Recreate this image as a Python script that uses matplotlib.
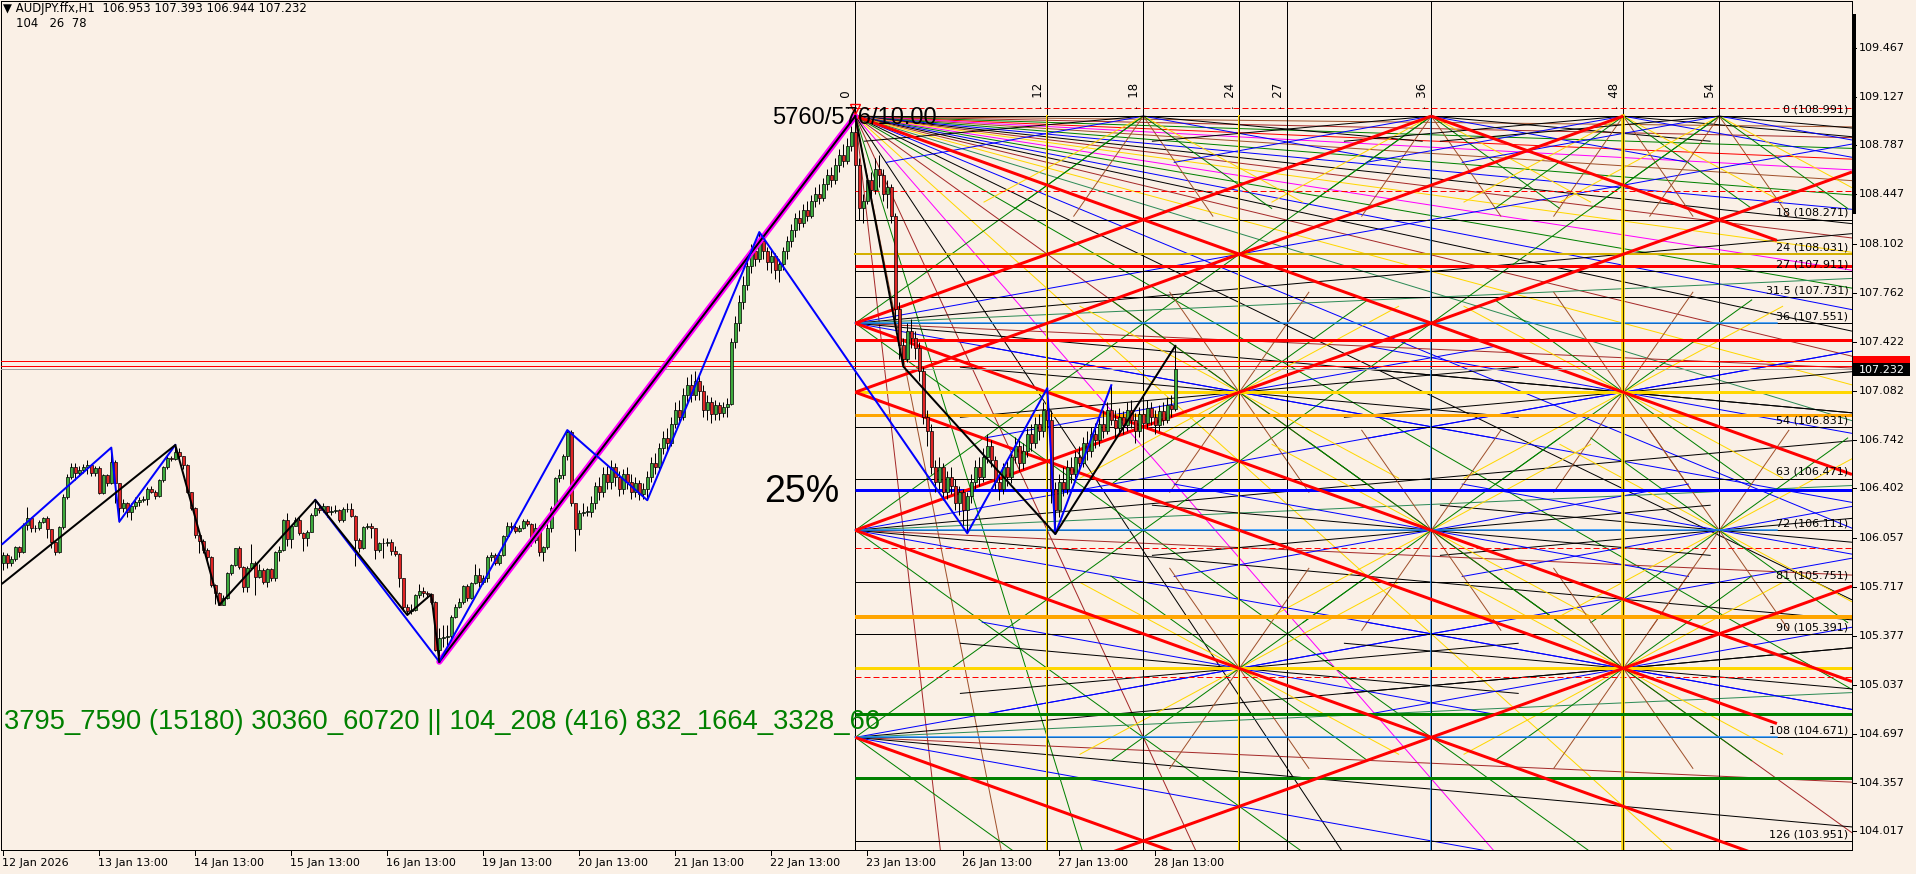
import numpy as np
import matplotlib
matplotlib.use("Agg")
import matplotlib.pyplot as plt
from matplotlib.lines import Line2D
from matplotlib.patches import Rectangle
from matplotlib.transforms import blended_transform_factory

# ------------------------------------------------------------------ data
HEADER = "\u25BC AUDJPY.ffx,H1  106.953 107.393 106.944 107.232"
SUBHEADER = "104   26  78"

DATE_BARS = [0, 24, 48, 72, 96, 120, 144, 168, 192, 216, 240, 264, 288]
DATE_LABELS = ["12 Jan 2026", "13 Jan 13:00", "14 Jan 13:00", "15 Jan 13:00",
               "16 Jan 13:00", "19 Jan 13:00", "20 Jan 13:00", "21 Jan 13:00",
               "22 Jan 13:00", "23 Jan 13:00", "26 Jan 13:00", "27 Jan 13:00",
               "28 Jan 13:00"]

PRICE_TICKS = [109.467, 109.127, 108.787, 108.447, 108.102, 107.762, 107.422,
               107.082, 106.742, 106.402, 106.057, 105.717, 105.377, 105.037,
               104.697, 104.357, 104.017]
LAST_PRICE = 107.232
RED_PRICE_LINES = [107.290, 107.256]

OPEN0 = 105.881
CLOSE = [
 105.939, 105.881, 105.909, 105.993, 105.962, 106.148, 106.194, 106.125, 106.130, 106.171,
 106.194, 106.118, 106.030, 105.962, 106.132, 106.345, 106.479, 106.553, 106.507, 106.530,
 106.550, 106.565, 106.512, 106.542, 106.368, 106.495, 106.442, 106.588, 106.438, 106.264,
 106.298, 106.240, 106.280, 106.310, 106.320, 106.330, 106.396, 106.380, 106.350, 106.461,
 106.553, 106.611, 106.604, 106.658, 106.628, 106.565, 106.380, 106.264, 106.078, 106.040,
 105.974, 105.928, 105.731, 105.673, 105.592, 105.638, 105.812, 105.870, 105.986, 105.858,
 105.719, 105.846, 105.886, 105.784, 105.835, 105.754, 105.840, 105.777, 105.962, 105.974,
 106.183, 106.048, 106.141, 106.183, 106.090, 106.055, 106.097, 106.217, 106.264, 106.252,
 106.280, 106.240, 106.247, 106.250, 106.183, 106.260, 106.257, 106.210, 106.043, 105.990,
 106.132, 106.140, 106.130, 105.974, 106.020, 106.020, 106.032, 105.970, 105.946, 105.777,
 105.580, 105.552, 105.560, 105.661, 105.690, 105.677, 105.668, 105.614, 105.278, 105.360,
 105.371, 105.376, 105.510, 105.575, 105.615, 105.724, 105.638, 105.747, 105.800, 105.754,
 105.777, 105.928, 105.940, 105.886, 105.940, 106.071, 106.141, 106.132, 106.108, 106.130,
 106.178, 106.155, 106.043, 106.125, 105.962, 105.997, 106.125, 106.264, 106.472, 106.495,
 106.628, 106.797, 106.298, 106.118, 106.234, 106.240, 106.240, 106.300, 106.420, 106.380,
 106.500, 106.450, 106.550, 106.480, 106.400, 106.500, 106.450, 106.380, 106.440, 106.360,
 106.400, 106.480, 106.580, 106.550, 106.680, 106.750, 106.720, 106.850, 106.950, 106.900,
 107.050, 107.120, 107.050, 107.150, 107.080, 106.950, 107.000, 106.920, 106.980, 106.930,
 106.970, 106.990, 107.420, 107.550, 107.700, 107.820, 107.950, 108.050, 108.000, 108.120,
 108.050, 107.980, 108.020, 107.920, 107.960, 108.050, 108.120, 108.200, 108.280, 108.250,
 108.340, 108.300, 108.400, 108.450, 108.420, 108.520, 108.580, 108.550, 108.650, 108.720,
 108.680, 108.780, 108.880, 108.650, 108.350, 108.400, 108.550, 108.480, 108.620, 108.580,
 108.450, 108.500, 108.300, 107.650, 107.400, 107.300, 107.500, 107.450, 107.380, 107.220,
 106.900, 106.800, 106.550, 106.450, 106.550, 106.380, 106.480, 106.420, 106.300, 106.380,
 106.250, 106.350, 106.450, 106.550, 106.480, 106.620, 106.700, 106.600, 106.450, 106.400,
 106.550, 106.480, 106.620, 106.700, 106.580, 106.660, 106.780, 106.720, 106.850, 106.800,
 106.950, 106.880, 106.400, 106.250, 106.450, 106.400, 106.550, 106.500, 106.620, 106.580,
 106.720, 106.660, 106.780, 106.740, 106.850, 106.800, 106.950, 106.880, 106.820, 106.900,
 106.840, 106.950, 106.880, 106.800, 106.920, 106.860, 106.960, 106.900, 106.840, 106.940,
 106.880, 106.980, 106.953, 107.232]
HIGH = [
 105.962, 105.950, 105.930, 106.000, 106.000, 106.160, 106.271, 106.200, 106.150, 106.180,
 106.200, 106.210, 106.120, 106.030, 106.140, 106.360, 106.500, 106.580, 106.580, 106.560,
 106.570, 106.600, 106.570, 106.560, 106.560, 106.500, 106.500, 106.686, 106.600, 106.440,
 106.330, 106.310, 106.300, 106.340, 106.340, 106.350, 106.410, 106.420, 106.390, 106.470,
 106.560, 106.630, 106.630, 106.704, 106.680, 106.630, 106.570, 106.380, 106.270, 106.080,
 106.050, 105.990, 105.930, 105.740, 105.680, 105.660, 105.820, 105.880, 105.990, 106.000,
 105.860, 105.860, 106.016, 105.900, 105.880, 105.850, 105.850, 105.850, 105.970, 106.000,
 106.190, 106.230, 106.150, 106.200, 106.200, 106.100, 106.110, 106.230, 106.322, 106.290,
 106.300, 106.280, 106.280, 106.290, 106.260, 106.270, 106.300, 106.300, 106.220, 106.060,
 106.140, 106.160, 106.160, 106.130, 106.030, 106.060, 106.060, 106.050, 106.000, 105.950,
 105.780, 105.600, 105.600, 105.670, 105.740, 105.720, 105.690, 105.666, 105.620, 105.430,
 105.450, 105.450, 105.520, 105.600, 105.640, 105.730, 105.740, 105.750, 105.880, 105.850,
 105.800, 105.940, 105.960, 105.950, 105.950, 106.080, 106.170, 106.170, 106.150, 106.150,
 106.190, 106.190, 106.160, 106.160, 106.150, 106.000, 106.160, 106.280, 106.480, 106.540,
 106.640, 106.808, 106.810, 106.300, 106.250, 106.300, 106.280, 106.350, 106.450, 106.480,
 106.550, 106.560, 106.600, 106.580, 106.520, 106.540, 106.550, 106.500, 106.480, 106.460,
 106.440, 106.520, 106.620, 106.650, 106.720, 106.800, 106.820, 106.900, 107.000, 107.020,
 107.100, 107.180, 107.200, 107.220, 107.200, 107.120, 107.050, 107.040, 107.020, 107.000,
 107.000, 107.030, 107.450, 107.600, 107.750, 107.880, 108.000, 108.100, 108.120, 108.185,
 108.150, 108.080, 108.060, 108.040, 108.000, 108.080, 108.160, 108.240, 108.320, 108.340,
 108.380, 108.400, 108.440, 108.500, 108.520, 108.560, 108.620, 108.640, 108.700, 108.760,
 108.800, 108.840, 108.920, 108.991, 108.700, 108.450, 108.580, 108.600, 108.700, 108.720,
 108.620, 108.550, 108.520, 108.320, 107.700, 107.450, 107.550, 107.580, 107.500, 107.420,
 107.250, 106.950, 106.850, 106.600, 106.620, 106.580, 106.520, 106.550, 106.470, 106.420,
 106.400, 106.380, 106.500, 106.600, 106.620, 106.680, 106.780, 106.740, 106.630, 106.500,
 106.580, 106.600, 106.660, 106.760, 106.740, 106.720, 106.820, 106.850, 106.900, 106.920,
 107.000, 107.100, 106.950, 106.450, 106.500, 106.550, 106.600, 106.620, 106.660, 106.700,
 106.760, 106.800, 106.830, 106.860, 106.900, 106.950, 107.000, 107.120, 106.950, 106.960,
 106.940, 107.000, 107.020, 106.930, 106.970, 106.980, 107.020, 107.000, 106.950, 106.980,
 107.000, 107.040, 107.050, 107.393]
LOW = [
 105.835, 105.850, 105.860, 105.900, 105.928, 105.950, 106.113, 106.100, 106.100, 106.110,
 106.160, 106.055, 105.990, 105.940, 105.950, 106.120, 106.330, 106.470, 106.460, 106.490,
 106.510, 106.500, 106.490, 106.490, 106.360, 106.360, 106.420, 106.430, 106.300, 106.171,
 106.240, 106.200, 106.180, 106.260, 106.280, 106.310, 106.290, 106.370, 106.330, 106.340,
 106.450, 106.540, 106.590, 106.600, 106.600, 106.540, 106.370, 106.250, 106.060, 105.950,
 105.950, 105.900, 105.720, 105.600, 105.592, 105.590, 105.630, 105.800, 105.860, 105.840,
 105.680, 105.680, 105.840, 105.660, 105.780, 105.740, 105.720, 105.760, 105.760, 105.900,
 105.970, 106.000, 105.990, 106.140, 106.080, 105.970, 106.000, 106.100, 106.210, 106.230,
 106.240, 106.200, 106.220, 106.230, 106.170, 106.170, 106.240, 106.200, 105.865, 105.960,
 105.980, 106.120, 106.060, 105.910, 105.960, 105.920, 106.000, 105.940, 105.930, 105.720,
 105.550, 105.522, 105.530, 105.550, 105.640, 105.650, 105.640, 105.600, 105.270, 105.197,
 105.300, 105.260, 105.340, 105.500, 105.570, 105.600, 105.620, 105.630, 105.740, 105.720,
 105.740, 105.750, 105.900, 105.870, 105.870, 105.930, 106.060, 106.100, 106.090, 106.100,
 106.120, 106.140, 106.000, 106.020, 105.930, 105.900, 105.980, 106.100, 106.260, 106.450,
 106.470, 106.600, 106.280, 105.970, 106.080, 106.210, 106.210, 106.200, 106.260, 106.320,
 106.340, 106.400, 106.400, 106.420, 106.350, 106.360, 106.400, 106.330, 106.340, 106.320,
 106.330, 106.320, 106.450, 106.500, 106.520, 106.640, 106.660, 106.700, 106.820, 106.850,
 106.880, 107.000, 107.000, 107.020, 107.020, 106.900, 106.880, 106.860, 106.880, 106.880,
 106.900, 106.900, 106.980, 107.380, 107.500, 107.650, 107.780, 107.900, 107.950, 107.980,
 108.000, 107.920, 107.900, 107.860, 107.840, 107.920, 108.000, 108.080, 108.150, 108.200,
 108.220, 108.260, 108.280, 108.360, 108.380, 108.400, 108.480, 108.500, 108.520, 108.600,
 108.640, 108.660, 108.750, 108.600, 108.270, 108.250, 108.380, 108.420, 108.450, 108.500,
 108.400, 108.350, 108.250, 107.580, 107.300, 107.250, 107.280, 107.380, 107.300, 107.150,
 106.850, 106.700, 106.500, 106.380, 106.400, 106.320, 106.330, 106.360, 106.250, 106.220,
 106.150, 106.090, 106.300, 106.400, 106.420, 106.450, 106.580, 106.550, 106.400, 106.320,
 106.360, 106.420, 106.440, 106.580, 106.520, 106.540, 106.620, 106.660, 106.680, 106.740,
 106.760, 106.820, 106.300, 106.085, 106.200, 106.350, 106.360, 106.440, 106.460, 106.520,
 106.550, 106.600, 106.620, 106.680, 106.700, 106.750, 106.780, 106.840, 106.760, 106.780,
 106.780, 106.800, 106.820, 106.720, 106.760, 106.800, 106.820, 106.840, 106.780, 106.800,
 106.840, 106.860, 106.900, 106.944]

# zigzag swing points (bar index, price)
ZZ_BLACK_BAR = [-0.2, 43, 54, 78, 101, 107, 109, np.nan, 213, 225, 263, 293]
ZZ_BLACK_PRICE = [105.742, 106.704, 105.592, 106.322, 105.522, 105.666, 105.197,
                  np.nan, 108.991, 107.250, 106.085, 107.393]
ZZ_BLUE_BAR = [-0.2, 27, 29, 43, np.nan, 78, 109, 141, 161, 189, 241, 261, 263, 277]
ZZ_BLUE_PRICE = [106.016, 106.686, 106.171, 106.704, np.nan, 106.322, 105.197,
                 106.808, 106.320, 108.185, 106.090, 107.100, 106.085, 107.120]
TREND_BAR = [109, 213]
TREND_PRICE = [105.197, 108.991]

# Gann square (origin, unit = 4 bars, level = 0.04)
G_BAR0, G_P0, G_UNIT, G_STEP, G_BOX = 213, 108.991, 4, 0.04, 57.6
V_UNITS = [0, 12, 18, 24, 27, 36, 48, 54]
V_OVER_UNITS = [12, 24, 36, 48]
V_OVER_COLORS = ["gold", "gold", "#1E90FF", "gold"]
V_OVER_W = [2, 2, 1.5, 3.5]
LEVELS = [0, 18, 24, 27, 31.5, 36, 54, 63, 72, 81, 90, 108, 126]
BLUE_LEVELS = [36, 72, 108]
THICK_LEVELS = [26, 39, 48, 52, 65, 87, 96, 104, 115]
THICK_COLORS = ["red", "red", "gold", "orange", "blue", "orange", "gold", "green", "green"]
THICK_W = [3, 3, 3, 3, 3, 4, 3, 3, 3]
GOLD_THIN_LEVELS = [24]
DASH_LEVELS = [-1.5, 13, 75, 97.5]
RED_FALL_C = [0, 36, 48, 72, 108, -36]
RED_FALL_END = [99, 99, 57.6, 99, 99, 57.6]
RED_RISE_K = [36, 48, 72, 144]
FAN0_SLOPES = [0.03, 0.06, 0.09, 0.12, 0.15, 0.18, 0.22, 0.26, 0.30, 0.34,
               0.38, 0.43, 0.48, 0.54, 0.60, 0.67, 0.75, 0.85, 1.15, 1.35,
               1.6, 2.0, 2.5, 3.2, 4.2, 6.0, 9.0, 14.0, 24.0]
FAN0_COLORS = ["sienna", "brown", "green", "red", "magenta", "sienna", "green", "blue",
               "black", "brown", "gold", "magenta", "green", "blue", "black", "brown",
               "gold", "seagreen", "blue", "black", "green", "brown", "gold", "magenta",
               "black", "brown", "green", "sienna", "brown"]
FAN_LEFT_LEVELS = [36, 72, 108]
FAN_LEFT_SLOPES = [-2, -0.5, -0.25, -0.125, 0.125, 0.25, 0.5, 2]
FAN_LEFT_COLORS = ["green", "blue", "black", "seagreen", "brown", "black", "blue", "green"]
STAR_U = [18, 36, 48, 54, 24, 48, 54, 36, 24, 48]
STAR_L = [0, 0, 0, 0, 48, 48, 72, 72, 96, 96]
STAR_SLOPES = [0.25, 0.5, 1.5, 2, 4]
STAR_COLORS = ["black", "blue", "gold", "green", "sienna"]
STAR_REACH = 18

TEXT_SQUARE = "5760/576/10.00"
TEXT_PCT = "25%"
TEXT_GREEN = "3795_7590 (15180) 30360_60720 || 104_208 (416) 832_1664_3328_66"

# ------------------------------------------------------------------ layout
W, H, DPI = 1916, 874, 100
PX = 72.0 / DPI
BG = "#FAF0E6"
AX_L, AX_R, AX_T, AX_B = 1, 1852, 1, 850
XMIN, XMAX = (AX_L - 3.3) / 4, (AX_R - 3.3) / 4
YMAX = 109.467 + (47.7 - AX_T) / 143.8
YMIN = 109.467 - (AX_B - 47.7) / 143.8

plt.rcParams["font.family"] = ["DejaVu Sans"]
fig = plt.figure(figsize=(W / DPI, H / DPI), dpi=DPI, facecolor=BG)
ax = fig.add_axes([AX_L / W, 1 - AX_B / H, (AX_R - AX_L) / W, (AX_B - AX_T) / H])
ax.set_facecolor(BG)
ax.set_xlim(XMIN, XMAX)
ax.set_ylim(YMIN, YMAX)
ax.set_xticks([])
ax.set_yticks([])
for sp in ax.spines.values():
    sp.set_color("black")
    sp.set_linewidth(1 * PX)

U_MAX = (XMAX - G_BAR0) / G_UNIT
L_MAX = (G_P0 - YMIN) / G_STEP + 1


def gb(u):
    return G_BAR0 + G_UNIT * np.asarray(u, dtype=float)


def gp(L):
    return G_P0 - G_STEP * np.asarray(L, dtype=float)


def clip(u1, L1, u2, L2, umax=None):
    umax = U_MAX if umax is None else umax
    du, dL = u2 - u1, L2 - L1
    t0, t1 = 0.0, 1.0
    for p, q in ((-du, u1 - 0), (du, umax - u1), (-dL, L1 - 0), (dL, L_MAX - L1)):
        if p == 0:
            if q < 0:
                return None
        else:
            t = q / p
            if p < 0:
                t0 = max(t0, t)
            else:
                t1 = min(t1, t)
    if t0 >= t1:
        return None
    return u1 + t0 * du, L1 + t0 * dL, u1 + t1 * du, L1 + t1 * dL


def seg(u1, L1, u2, L2, color, lw_px, z=2, umax=None, **kw):
    c = clip(u1, L1, u2, L2, umax)
    if c is None:
        return
    a, b, cc, d = c
    ax.plot([gb(a), gb(cc)], [gp(b), gp(d)], color=color, lw=lw_px * PX,
            solid_capstyle="butt", zorder=z, **kw)


# ---- Gann thin rays
for s, col in zip(FAN0_SLOPES, FAN0_COLORS):
    seg(0, 0, 200, 200 * s, col, 1)
for L0 in FAN_LEFT_LEVELS:
    for s, col in zip(FAN_LEFT_SLOPES, FAN_LEFT_COLORS):
        seg(0, L0, 200, L0 + 200 * s, col, 1)
for su, sl in zip(STAR_U, STAR_L):
    for s, col in zip(STAR_SLOPES, STAR_COLORS):
        d = STAR_REACH / np.sqrt(1 + s * s)
        for sg in (1, -1):
            seg(su - d, sl - sg * s * d, su + d, sl + sg * s * d, col, 1)

# ---- vertical grid lines
for u in V_UNITS:
    ax.axvline(gb(u), color="black", lw=1 * PX, zorder=2.2)
    ax.text(gb(u) - 2.3, 109.041, ".  " + str(u), rotation=90, ha="center", va="bottom",
            fontsize=8.5, color="black", zorder=7)
for u, col, w in zip(V_OVER_UNITS, V_OVER_COLORS, V_OVER_W):
    ax.plot([gb(u), gb(u)], [gp(0), YMIN], color=col, lw=w * PX, zorder=2.3)
    ax.plot([gb(u), gb(u)], [gp(0), YMIN], color="black", lw=0.8 * PX, zorder=2.31)

# ---- horizontal levels
for L in LEVELS:
    ax.plot([gb(0), XMAX], [gp(L), gp(L)], color="black", lw=1 * PX, zorder=2.2)
    ax.text(461.3, gp(L) + 0.012, f"{L:g} ({G_P0 - G_STEP * L:.3f})", ha="right",
            va="bottom", fontsize=8, color="black", zorder=7)
for L in BLUE_LEVELS:
    ax.plot([gb(0), gb(G_BOX)], [gp(L), gp(L)], color="#1E90FF", lw=1.5 * PX, zorder=2.25)
for L in GOLD_THIN_LEVELS:
    ax.plot([gb(0), XMAX], [gp(L), gp(L)], color="#D4B000", lw=2 * PX, zorder=2.21)
for L in DASH_LEVELS:
    ax.plot([gb(0), XMAX], [gp(L), gp(L)], color="red", lw=1 * PX, zorder=2.2,
            dashes=(6, 3))
for L, col, w in zip(THICK_LEVELS, THICK_COLORS, THICK_W):
    ax.plot([gb(0), XMAX], [gp(L), gp(L)], color=col, lw=w * PX, zorder=2.6,
            solid_capstyle="butt")

# ---- thick red lattice
for c, ue in zip(RED_FALL_C, RED_FALL_END):
    us = max(0, -c)
    seg(us, us + c, 200, 200 + c, "red", 3, z=2.7, umax=min(ue, U_MAX))
for k in RED_RISE_K:
    seg(0, k, 200, k - 200, "red", 3, z=2.7)

# ---- price lines across the whole chart
for p in RED_PRICE_LINES:
    ax.axhline(p, color="red", lw=1 * PX, zorder=2.8)
ax.axhline(LAST_PRICE, color="#A0A0A0", lw=1 * PX, zorder=2.8)

# ---- candles
close = np.array(CLOSE)
opn = np.array([OPEN0] + CLOSE[:-1])
high = np.maximum.reduce([np.array(HIGH), opn, close])
low = np.minimum.reduce([np.array(LOW), opn, close])
idx = np.arange(len(close))
ax.vlines(idx, low, high, color="black", lw=1 * PX, zorder=5)
bull = close >= opn
bot = np.minimum(opn, close)
hgt = np.maximum(np.abs(close - opn), 0.003)
ax.bar(idx[bull], hgt[bull], bottom=bot[bull], width=0.62, color="#3DAA3D",
       edgecolor="black", linewidth=0.7 * PX, zorder=5.5)
ax.bar(idx[~bull], hgt[~bull], bottom=bot[~bull], width=0.62, color="#E02424",
       edgecolor="black", linewidth=0.7 * PX, zorder=5.5)

# ---- zigzags and trend line
ax.plot(TREND_BAR, TREND_PRICE, color="magenta", lw=6 * PX, zorder=6, solid_capstyle="round")
ax.plot(TREND_BAR, TREND_PRICE, color="black", lw=2 * PX, zorder=6.1)
ax.plot(ZZ_BLUE_BAR, ZZ_BLUE_PRICE, color="blue", lw=2 * PX, zorder=6.2)
ax.plot(ZZ_BLACK_BAR, ZZ_BLACK_PRICE, color="black", lw=2 * PX, zorder=6.3)

# origin arrow
ax.plot([G_BAR0], [109.04], marker="v", ms=7, mfc="none", mec="red", mew=1, zorder=7)

# ---- texts on chart
ax.text(192.2, 108.975, TEXT_SQUARE, fontsize=17, family=["Liberation Sans"],
        ha="left", va="center", color="black", zorder=8)
ax.text(190.2, 106.377, TEXT_PCT, fontsize=27, family=["Liberation Sans"],
        ha="left", va="center", color="black", zorder=8)
ax.text(0.2, 104.778, TEXT_GREEN, fontsize=19.7, family=["Liberation Sans"],
        ha="left", va="center", color="#008000", zorder=8)

# ---- header
fig.text(3 / W, 1 - 2 / H, HEADER, fontsize=8.4, va="top", ha="left", color="black")
fig.text(16 / W, 1 - 17 / H, SUBHEADER, fontsize=8.4, va="top", ha="left", color="black")

# ---- price axis
ty = blended_transform_factory(ax.transAxes, ax.transData)
axw = AX_R - AX_L
for v in PRICE_TICKS:
    ax.plot([1, 1 + 4 / axw], [v, v], transform=ty, clip_on=False, color="black", lw=1 * PX)
    ax.text(1 + 7 / axw, v, f"{v:.3f}", transform=ty, clip_on=False, fontsize=8,
            ha="left", va="center", color="black")
# right-edge scroll bar
fig.add_artist(Line2D([1853.5 / W, 1853.5 / W], [1 - 15 / H, 1 - 212 / H],
                      color="black", lw=3 * PX))
# current price marker
fig.add_artist(Rectangle((1853 / W, 1 - 363 / H), 57 / W, 7 / H, transform=fig.transFigure,
                         facecolor="red", edgecolor="none"))
fig.add_artist(Rectangle((1853 / W, 1 - 376 / H), 57 / W, 13 / H, transform=fig.transFigure,
                         facecolor="black", edgecolor="none"))
fig.text(1859 / W, 1 - 369.5 / H, f"{LAST_PRICE:.3f}", fontsize=8, color="white",
         ha="left", va="center")

# ---- time axis
tx = blended_transform_factory(ax.transData, ax.transAxes)
axh = AX_B - AX_T
for b, lab in zip(DATE_BARS, DATE_LABELS):
    ax.plot([b, b], [0, -5 / axh], transform=tx, clip_on=False, color="black", lw=1 * PX)
    ax.text(b - 0.2, -12.5 / axh, lab, transform=tx, clip_on=False, fontsize=8,
            ha="left", va="center", color="black")

fig.savefig("out.png", dpi=DPI, facecolor=BG)
